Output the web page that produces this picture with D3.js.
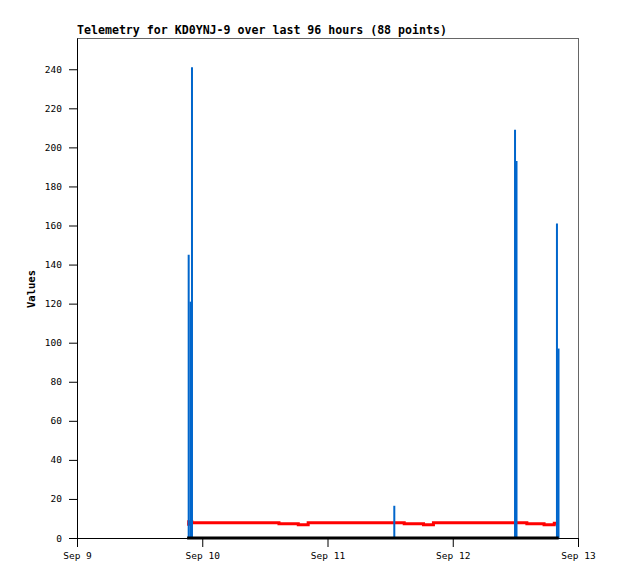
<!DOCTYPE html>
<html>
<head>
<meta charset="utf-8">
<script src="https://cdn.jsdelivr.net/npm/d3@7"></script>
<style>
  body { margin: 0; background: #fff; }
</style>
</head>
<body>
<div id="myPlot"></div>
<script>
// Chart data
const titleText = "Telemetry for KD0YNJ-9 over last 96 hours (88 points)";
const xTickDates = ["2024-09-09", "2024-09-10", "2024-09-11", "2024-09-12", "2024-09-13"];
const xTickLabels = ["Sep 9", "Sep 10", "Sep 11", "Sep 12", "Sep 13"];
const yTicks = [0, 20, 40, 60, 80, 100, 120, 140, 160, 180, 200, 220, 240];

// blue spikes
const spikeTimes = ["2024-09-09T21:24", "2024-09-09T21:45", "2024-09-09T22:02", "2024-09-11T12:48",
                    "2024-09-12T11:56", "2024-09-12T12:13", "2024-09-12T19:58", "2024-09-12T20:16"];
const spikeValues = [145, 121, 241, 16.5, 209, 193, 161, 97];

// red series (step changes)
const redTimes = ["2024-09-09T21:06", "2024-09-09T21:24", "2024-09-09T22:00", "2024-09-10T14:42",
                  "2024-09-10T18:24", "2024-09-10T20:18", "2024-09-11T14:42", "2024-09-11T18:24",
                  "2024-09-11T20:18", "2024-09-12T14:12", "2024-09-12T17:30", "2024-09-12T19:27",
                  "2024-09-12T20:18"];
const redValues = [7.0, 8.3, 7.8, 7.3, 6.8, 7.8, 7.3, 6.8, 7.8, 7.3, 6.8, 7.5, 7.5];

// black series (flat zero)
const blackTimes = ["2024-09-09T21:06", "2024-09-12T20:18"];
const blackValues = [0, 0];

drawChart();

function drawChart() {
    const width = 618;
    const height = 579;
    const margin = { top: 38, right: 40, bottom: 41, left: 77 };
    const xMax = width - margin.left - margin.right;
    const yMax = height - margin.top - margin.bottom;
    const parse = d3.isoParse;

    const svg = d3.select("#myPlot")
        .append("svg")
        .attr("width", width)
        .attr("height", height)
        .style("font-family", "'DejaVu Sans Mono', monospace");

    svg.append("text")
        .attr("x", margin.left)
        .attr("y", 34)
        .attr("font-size", "11.6px")
        .attr("font-weight", "bold")
        .text(titleText);

    const g = svg.append("g")
        .attr("transform", "translate(" + margin.left + "," + margin.top + ")");

    const x = d3.scaleTime()
        .domain([parse(xTickDates[0]), parse(xTickDates[xTickDates.length - 1])])
        .range([0, xMax]);

    const y = d3.scaleLinear()
        .domain([0, 256])
        .range([yMax, 0]);

    // frame
    g.append("rect")
        .attr("x", 0.5).attr("y", 0.5)
        .attr("width", xMax).attr("height", yMax)
        .attr("fill", "none")
        .attr("stroke", "#666");

    // red series
    const redData = redTimes.map((t, i) => ({ t: parse(t), v: redValues[i] }));
    g.append("path")
        .datum(redData)
        .attr("fill", "none")
        .attr("stroke", "#ff0000")
        .attr("stroke-width", 3)
        .attr("d", d3.line().curve(d3.curveStepAfter).x(d => x(d.t)).y(d => y(d.v)));

    // blue spikes
    const spikeData = spikeTimes.map((t, i) => ({ t: parse(t), v: spikeValues[i] }));
    g.selectAll(".spike")
        .data(spikeData)
        .enter()
        .append("line")
        .attr("class", "spike")
        .attr("x1", d => x(d.t)).attr("x2", d => x(d.t))
        .attr("y1", y(0)).attr("y2", d => y(d.v))
        .attr("stroke", "#0066cc")
        .attr("stroke-width", 2);

    // black zero series
    const blackData = blackTimes.map((t, i) => ({ t: parse(t), v: blackValues[i] }));
    g.append("path")
        .datum(blackData)
        .attr("fill", "none")
        .attr("stroke", "#000")
        .attr("stroke-width", 3)
        .attr("d", d3.line().x(d => x(d.t)).y(d => y(d.v)));

    // X axis
    const xAxis = g.append("g")
        .attr("transform", "translate(0," + yMax + ")")
        .call(d3.axisBottom(x)
            .tickValues(xTickDates.map(parse))
            .tickFormat((d, i) => xTickLabels[i])
            .tickSize(9)
            .tickPadding(5));
    xAxis.selectAll("text").attr("font-size", "9.5px").attr("fill", "#000").style("font-family", "'DejaVu Sans Mono', monospace");
    xAxis.select(".domain").attr("stroke", "#000");

    // Y axis
    const yAxis = g.append("g")
        .call(d3.axisLeft(y)
            .tickValues(yTicks)
            .tickSize(8)
            .tickPadding(7)
            .tickSizeOuter(0));
    yAxis.selectAll("text").attr("font-size", "9.5px").attr("fill", "#000").style("font-family", "'DejaVu Sans Mono', monospace");
    yAxis.select(".domain").attr("stroke", "#000");

    svg.append("text")
        .attr("transform", "translate(35,289) rotate(-90)")
        .attr("text-anchor", "middle")
        .attr("font-size", "10.5px")
        .attr("font-weight", "bold")
        .text("Values");
}
</script>
</body>
</html>
